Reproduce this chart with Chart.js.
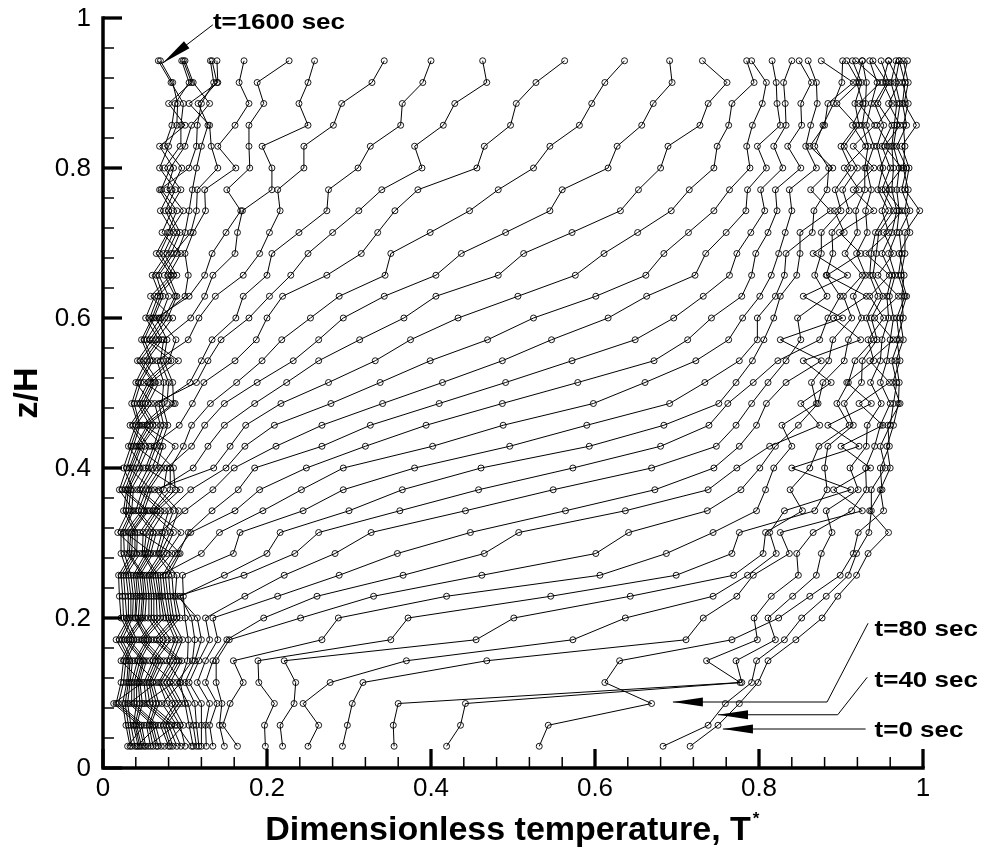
<!DOCTYPE html>
<html>
<head>
<meta charset="utf-8">
<script src="https://cdn.jsdelivr.net/npm/chart.js@4.4.0/dist/chart.umd.min.js"></script>
<style>
  html, body { margin: 0; padding: 0; background: #fff; }
  #wrap { width: 986px; height: 852px; }
</style>
</head>
<body>
<div id="wrap"><canvas id="profiles" width="986" height="852"></canvas></div>
<script>
// z/H of the 33 measuring levels (bottom to top)
const zLevels = [0.029, 0.057, 0.086, 0.114, 0.143, 0.171, 0.2, 0.229, 0.257, 0.286, 0.314,
                 0.343, 0.371, 0.4, 0.429, 0.457, 0.486, 0.514, 0.543, 0.571, 0.6, 0.629,
                 0.657, 0.686, 0.714, 0.743, 0.771, 0.8, 0.829, 0.857, 0.886, 0.914, 0.943];

// one profile per time, sec
const times = [0, 40, 80, 120, 160, 200, 240, 280, 320, 360, 400, 440, 480, 520, 560, 600,
               640, 680, 720, 760, 800, 840, 880, 920, 960, 1000, 1040, 1080, 1120, 1160,
               1200, 1240, 1280, 1320, 1360, 1400, 1440, 1480, 1520, 1560, 1600];

// T* at each level, listed for t = 0, 40, ... 1600 sec
const z01 = [.716, .683, .532, .419, .355, .292, .250, .219, .198, .164, .148, .134, .126, .120, .117, .114, .110, .108, .100, .075, .080, .082, .085, .090, .095, .055, .058, .061, .065, .067, .071, .041, .043, .045, .047, .050, .052, .030, .033, .035, .039];
const z02 = [.750, .738, .543, .436, .354, .298, .263, .216, .197, .146, .142, .130, .125, .120, .114, .110, .105, .090, .094, .098, .070, .074, .077, .080, .084, .088, .053, .056, .058, .061, .064, .067, .037, .039, .041, .044, .047, .050, .028, .031, .034];
const z03 = [.776, .759, .669, .442, .360, .304, .244, .233, .209, .155, .145, .139, .130, .120, .112, .104, .100, .072, .078, .084, .088, .092, .096, .050, .053, .057, .061, .065, .068, .032, .035, .038, .041, .045, .048, .013, .016, .019, .024, .027, .030];
const z04 = [.799, .791, .612, .779, .777, .317, .277, .235, .190, .171, .138, .125, .115, .105, .100, .090, .094, .095, .068, .070, .074, .078, .082, .086, .050, .053, .056, .058, .061, .065, .035, .038, .041, .043, .045, .048, .022, .025, .029, .031, .033];
const z05 = [.811, .797, .630, .772, .736, .468, .370, .221, .189, .159, .138, .134, .125, .117, .112, .109, .103, .078, .082, .086, .090, .093, .096, .057, .061, .064, .067, .070, .074, .039, .042, .045, .048, .050, .053, .022, .025, .028, .031, .033, .036];
const z06 = [.845, .831, .767, .820, .798, .711, .573, .455, .351, .267, .154, .151, .140, .130, .120, .112, .104, .088, .092, .097, .062, .065, .069, .073, .078, .083, .044, .047, .050, .053, .056, .059, .026, .029, .032, .035, .038, .041, .016, .020, .023];
const z07 = [.877, .852, .824, .811, .794, .732, .637, .501, .372, .287, .241, .196, .134, .125, .115, .108, .100, .077, .080, .083, .086, .090, .094, .055, .059, .062, .066, .070, .074, .039, .040, .043, .046, .048, .051, .022, .025, .029, .031, .033, .036];
const z08 = [.896, .882, .862, .841, .815, .773, .744, .643, .546, .419, .330, .261, .213, .173, .091, .094, .098, .072, .076, .079, .082, .086, .088, .056, .059, .062, .065, .068, .070, .040, .042, .045, .048, .050, .053, .020, .024, .027, .031, .034, .037];
const z09 = [.919, .909, .899, .870, .848, .793, .786, .769, .699, .606, .462, .366, .288, .221, .172, .148, .097, .070, .073, .076, .080, .084, .090, .053, .056, .058, .061, .064, .067, .037, .040, .042, .045, .048, .050, .019, .022, .025, .028, .031, .034];
const z10 = [.933, .919, .915, .876, .846, .837, .821, .805, .767, .687, .601, .465, .359, .283, .234, .200, .159, .120, .088, .092, .094, .065, .068, .070, .074, .078, .084, .048, .050, .052, .055, .058, .061, .030, .032, .035, .038, .041, .045, .022, .026];
const z11 = [.958, .934, .921, .889, .866, .826, .813, .808, .776, .744, .641, .507, .448, .327, .263, .216, .167, .142, .107, .104, .069, .072, .076, .082, .086, .095, .045, .049, .053, .058, .061, .065, .027, .031, .034, .036, .039, .042, .018, .022, .025];
const z12 = [.935, .937, .952, .882, .913, .926, .831, .853, .868, .797, .737, .637, .564, .442, .362, .300, .244, .195, .161, .133, .100, .080, .086, .092, .057, .061, .063, .066, .070, .075, .040, .043, .047, .050, .053, .055, .025, .028, .031, .035, .037];
const z13 = [.950, .937, .948, .921, .931, .891, .912, .838, .883, .808, .778, .738, .673, .549, .458, .365, .293, .242, .191, .165, .134, .107, .063, .068, .074, .082, .088, .094, .042, .045, .048, .053, .056, .059, .023, .027, .029, .031, .034, .037, .020];
const z14 = [.948, .954, .960, .911, .930, .936, .840, .862, .880, .818, .801, .773, .745, .669, .573, .461, .380, .293, .248, .185, .160, .150, .135, .110, .078, .082, .086, .052, .055, .060, .065, .070, .074, .032, .034, .037, .041, .044, .049, .025, .029];
const z15 = [.959, .948, .956, .931, .941, .900, .922, .873, .884, .840, .820, .813, .776, .748, .680, .593, .496, .402, .320, .267, .211, .173, .155, .128, .108, .098, .059, .062, .065, .070, .073, .088, .040, .042, .045, .047, .051, .056, .031, .034, .037];
const z16 = [.957, .960, .964, .932, .948, .951, .884, .910, .915, .828, .848, .874, .797, .772, .739, .684, .590, .488, .394, .326, .267, .209, .174, .148, .124, .108, .093, .070, .074, .079, .048, .050, .054, .057, .061, .065, .033, .036, .040, .043, .045];
const z17 = [.972, .964, .970, .949, .960, .922, .937, .895, .904, .870, .872, .851, .809, .791, .762, .751, .691, .598, .487, .410, .341, .278, .217, .185, .148, .131, .109, .063, .068, .072, .078, .086, .088, .042, .045, .048, .051, .055, .059, .035, .038];
const z18 = [.963, .968, .971, .936, .948, .959, .907, .909, .925, .864, .878, .888, .833, .811, .793, .772, .734, .661, .579, .491, .414, .338, .275, .224, .188, .163, .123, .114, .106, .074, .080, .085, .050, .055, .058, .061, .063, .068, .040, .043, .046];
const z19 = [.972, .962, .967, .948, .956, .935, .940, .917, .926, .885, .904, .854, .876, .833, .823, .792, .776, .723, .672, .572, .487, .399, .332, .263, .232, .194, .161, .128, .120, .066, .070, .074, .080, .083, .092, .042, .045, .050, .053, .058, .061];
const z20 = [.968, .971, .976, .950, .960, .964, .933, .940, .944, .890, .909, .924, .826, .851, .874, .806, .798, .763, .713, .649, .547, .469, .375, .313, .263, .218, .187, .144, .133, .104, .074, .078, .089, .053, .057, .060, .065, .068, .072, .047, .050];
const z21 = [.976, .968, .972, .958, .964, .941, .952, .931, .937, .913, .925, .891, .902, .847, .884, .818, .798, .780, .742, .696, .616, .525, .433, .367, .293, .253, .200, .178, .162, .117, .107, .065, .068, .070, .075, .079, .085, .052, .057, .060, .062];
const z22 = [.974, .978, .980, .956, .959, .970, .935, .945, .951, .903, .915, .931, .854, .883, .899, .826, .820, .801, .779, .732, .663, .601, .506, .406, .343, .288, .219, .203, .171, .137, .124, .105, .100, .080, .088, .090, .058, .063, .067, .070, .073];
const z23 = [.977, .970, .973, .962, .966, .945, .959, .935, .939, .926, .930, .883, .908, .868, .882, .846, .831, .815, .791, .764, .722, .662, .576, .482, .406, .344, .273, .229, .200, .171, .134, .124, .104, .068, .075, .080, .083, .086, .090, .060, .065];
const z24 = [.971, .974, .978, .950, .958, .964, .930, .937, .943, .905, .919, .924, .866, .876, .890, .850, .833, .824, .796, .773, .735, .684, .611, .513, .437, .351, .315, .250, .206, .191, .161, .133, .100, .086, .090, .095, .065, .069, .074, .078, .083];
const z25 = [.984, .971, .978, .962, .968, .952, .958, .942, .946, .920, .932, .898, .904, .876, .889, .850, .865, .832, .811, .790, .760, .714, .652, .572, .491, .399, .335, .280, .239, .203, .164, .150, .110, .107, .100, .072, .079, .081, .086, .090, .094];
const z26 = [.978, .984, .996, .968, .971, .974, .950, .958, .964, .918, .930, .940, .892, .900, .910, .887, .867, .840, .822, .807, .784, .745, .693, .631, .545, .447, .356, .312, .273, .216, .170, .168, .125, .114, .105, .084, .090, .098, .070, .076, .080];
const z27 = [.982, .974, .978, .962, .968, .954, .959, .945, .950, .929, .937, .915, .922, .893, .902, .863, .883, .837, .820, .802, .786, .764, .715, .653, .560, .482, .384, .340, .275, .213, .206, .151, .124, .115, .109, .069, .071, .078, .083, .088, .095];
const z28 = [.976, .980, .983, .964, .971, .974, .948, .951, .960, .929, .931, .940, .904, .912, .920, .890, .885, .870, .851, .829, .809, .789, .745, .680, .616, .525, .456, .389, .311, .245, .206, .179, .162, .140, .114, .105, .082, .086, .096, .069, .075];
const z29 = [.978, .968, .974, .962, .964, .953, .959, .944, .950, .933, .940, .915, .930, .900, .904, .862, .868, .857, .835, .818, .798, .785, .749, .689, .627, .545, .465, .380, .326, .245, .194, .178, .140, .132, .120, .114, .100, .069, .075, .080, .094];
const z30 = [.976, .980, .992, .965, .968, .972, .944, .952, .962, .926, .931, .941, .914, .919, .922, .880, .878, .863, .852, .833, .826, .792, .763, .728, .657, .581, .497, .415, .363, .281, .250, .178, .161, .130, .128, .115, .108, .100, .084, .090, .095];
const z31 = [.982, .975, .977, .968, .972, .958, .963, .941, .945, .930, .937, .922, .927, .895, .917, .884, .891, .871, .851, .832, .822, .804, .767, .738, .671, .596, .504, .429, .365, .291, .239, .196, .178, .105, .116, .120, .130, .080, .088, .091, .098];
const z32 = [.975, .978, .982, .961, .966, .971, .951, .956, .958, .931, .944, .948, .919, .922, .925, .915, .901, .870, .864, .830, .821, .809, .794, .761, .694, .612, .528, .468, .390, .328, .250, .188, .166, .140, .139, .135, .110, .108, .105, .085, .083];
const z33 = [.981, .971, .976, .967, .971, .958, .958, .939, .949, .926, .935, .918, .926, .907, .914, .876, .902, .860, .849, .840, .816, .791, .785, .731, .691, .636, .563, .463, .400, .343, .258, .227, .172, .139, .133, .131, .100, .098, .096, .070, .0675];

const rows = [z01, z02, z03, z04, z05, z06, z07, z08, z09, z10, z11, z12, z13, z14, z15, z16,
              z17, z18, z19, z20, z21, z22, z23, z24, z25, z26, z27, z28, z29, z30, z31, z32, z33];

const xTicks = [0, 0.2, 0.4, 0.6, 0.8, 1];
const xTickLabels = ["0", "0.2", "0.4", "0.6", "0.8", "1"];
const yTicks = [0, 0.2, 0.4, 0.6, 0.8, 1];
const yTickLabels = ["0", "0.2", "0.4", "0.6", "0.8", "1"];

// callouts: label, label anchor (T*, z/H), leader line ending in an arrow
const notes = [
    { text: "t=1600 sec", at: [0.134, 0.985], path: [[0.134, 0.991], [0.073, 0.940]] },
    { text: "t=80 sec", at: [0.941, 0.176], path: [[0.933, 0.193], [0.883, 0.088], [0.695, 0.088]] },
    { text: "t=40 sec", at: [0.941, 0.108], path: [[0.932, 0.121], [0.896, 0.071], [0.750, 0.071]] },
    { text: "t=0 sec", at: [0.941, 0.041], path: [[0.930, 0.052], [0.756, 0.052]] }
];

const FONT = "'Liberation Sans', Arial, Helvetica, sans-serif";

let datasets = times.map(function (t, i) {
    return {
        label: "t=" + t + " sec",
        data: rows.map(function (row, k) { return { x: row[i], y: zLevels[k] }; }),
        showLine: true,
        borderColor: "#000",
        borderWidth: 1,
        pointRadius: 3,
        pointBorderWidth: 0.9,
        pointBorderColor: "#000",
        pointBackgroundColor: "rgba(0,0,0,0)",
        tension: 0,
        fill: false,
        clip: false
    };
});

function arrowHead(ctx, from, tip, len, half) {
    let dx = tip[0] - from[0], dy = tip[1] - from[1];
    let d = Math.sqrt(dx * dx + dy * dy);
    let ux = dx / d, uy = dy / d;
    let bx = tip[0] - ux * len, by = tip[1] - uy * len;
    ctx.beginPath();
    ctx.moveTo(tip[0], tip[1]);
    ctx.lineTo(bx - uy * half, by + ux * half);
    ctx.lineTo(bx + uy * half, by - ux * half);
    ctx.closePath();
    ctx.fill();
}

const tecAxes = {
    id: "tecAxes",
    afterDraw(chart) {
        let ctx = chart.ctx;
        let xs = chart.scales.x, ys = chart.scales.y;
        let x0 = xs.getPixelForValue(0), x1 = xs.getPixelForValue(1);
        let y0 = ys.getPixelForValue(0), y1 = ys.getPixelForValue(1);
        ctx.save();
        ctx.strokeStyle = "#000";
        ctx.fillStyle = "#000";

        // axis lines
        ctx.lineWidth = 3.5;
        ctx.lineJoin = "miter";
        ctx.beginPath();
        ctx.moveTo(x0, y1 - 1.7);
        ctx.lineTo(x0, y0);
        ctx.lineTo(x1 + 1.7, y0);
        ctx.stroke();

        // major ticks, pointing into the plot
        ctx.lineWidth = 3.3;
        xTicks.forEach(function (v) {
            let p = xs.getPixelForValue(v);
            ctx.beginPath(); ctx.moveTo(p, y0); ctx.lineTo(p, y0 - 19); ctx.stroke();
        });
        yTicks.forEach(function (v) {
            let p = ys.getPixelForValue(v);
            ctx.beginPath(); ctx.moveTo(x0, p); ctx.lineTo(x0 + 19, p); ctx.stroke();
        });
        // minor ticks
        ctx.lineWidth = 1.5;
        for (let i = 0; i < xTicks.length - 1; i++) {
            for (let m = 1; m < 5; m++) {
                let v = xTicks[i] + (xTicks[i + 1] - xTicks[i]) * m / 5;
                let p = xs.getPixelForValue(v);
                ctx.beginPath(); ctx.moveTo(p, y0); ctx.lineTo(p, y0 - 11); ctx.stroke();
            }
        }
        for (let i = 0; i < yTicks.length - 1; i++) {
            for (let m = 1; m < 5; m++) {
                let v = yTicks[i] + (yTicks[i + 1] - yTicks[i]) * m / 5;
                let p = ys.getPixelForValue(v);
                ctx.beginPath(); ctx.moveTo(x0, p); ctx.lineTo(x0 + 11, p); ctx.stroke();
            }
        }

        // tick labels
        ctx.font = "26px " + FONT;
        ctx.textAlign = "center";
        ctx.textBaseline = "middle";
        xTicks.forEach(function (v, i) {
            ctx.fillText(xTickLabels[i], xs.getPixelForValue(v), y0 + 21);
        });
        ctx.textAlign = "right";
        yTicks.forEach(function (v, i) {
            ctx.fillText(yTickLabels[i], x0 - 12, ys.getPixelForValue(v) + 1);
        });

        // axis titles
        ctx.font = "bold 34px " + FONT;
        ctx.textAlign = "center";
        ctx.textBaseline = "alphabetic";
        let title = "Dimensionless temperature, T";
        let cx = (x0 + x1) / 2 - 5;
        ctx.fillText(title, cx, y0 + 72);
        let w = ctx.measureText(title).width;
        ctx.font = "bold 17px " + FONT;
        ctx.textAlign = "left";
        ctx.fillText("*", cx + w / 2 + 2, y0 + 56);

        ctx.save();
        ctx.translate(x0 - 66, (y0 + y1) / 2);
        ctx.rotate(-Math.PI / 2);
        ctx.font = "bold 34px " + FONT;
        ctx.textAlign = "center";
        ctx.fillText("z/H", 0, 0);
        ctx.restore();

        // callouts
        ctx.lineWidth = 1;
        notes.forEach(function (n) {
            let pts = n.path.map(function (p) { return [xs.getPixelForValue(p[0]), ys.getPixelForValue(p[1])]; });
            ctx.beginPath();
            ctx.moveTo(pts[0][0], pts[0][1]);
            for (let j = 1; j < pts.length; j++) ctx.lineTo(pts[j][0], pts[j][1]);
            ctx.stroke();
            arrowHead(ctx, pts[pts.length - 2], pts[pts.length - 1], 30, 4.5);

            ctx.save();
            ctx.translate(xs.getPixelForValue(n.at[0]), ys.getPixelForValue(n.at[1]));
            ctx.scale(1.18, 1);
            ctx.font = "bold 22px " + FONT;
            ctx.textAlign = "left";
            ctx.textBaseline = "alphabetic";
            ctx.fillText(n.text, 0, 0);
            ctx.restore();
        });
        ctx.restore();
    }
};

let ctx = document.getElementById("profiles").getContext("2d");
let profileChart = new Chart(ctx, {
    type: "scatter",
    data: { datasets: datasets },
    options: {
        responsive: false,
        animation: false,
        layout: { padding: { left: 103, right: 63, top: 18, bottom: 84 } },
        plugins: { legend: { display: false }, tooltip: { enabled: false } },
        scales: {
            x: { type: "linear", min: 0, max: 1, display: false },
            y: { type: "linear", min: 0, max: 1, display: false }
        }
    },
    plugins: [tecAxes]
});
</script>
</body>
</html>
